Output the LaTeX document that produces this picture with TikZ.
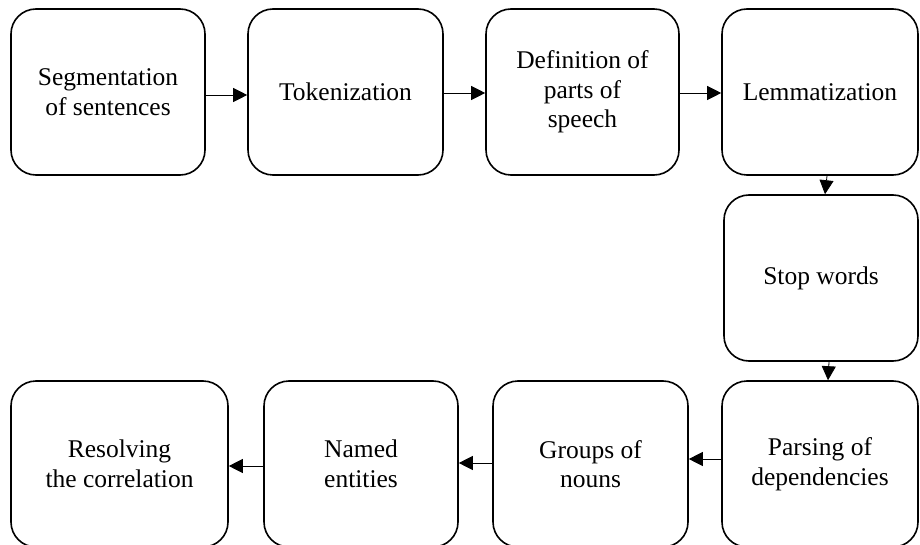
\documentclass[tikz,border=0pt]{standalone}
\usepackage{fontspec}
\setmainfont{Liberation Serif}
\usetikzlibrary{arrows.meta}
\tikzset{
  procbox/.style={draw, line width=1.6pt, rounded corners=25pt, align=center,
    font=\fontsize{25.5pt}{29.5pt}\selectfont, inner sep=0pt},
  flow/.style={line width=0.8pt, -{Triangle[length=14pt,width=14pt]}}
}
\begin{document}
\begin{tikzpicture}[x=1pt,y=-1pt]
\clip (0,0) rectangle (920,545);
\fill[white] (0,0) rectangle (920,545);
\node[procbox, minimum width=194pt, minimum height=166pt] (b1) at (108,92) {Segmentation\\of sentences};
\node[procbox, minimum width=195pt, minimum height=166pt] (b2) at (345.5,92) {Tokenization};
\node[procbox, minimum width=193pt, minimum height=166pt] (b3) at (582.5,92) {Definition of\\parts of\\speech};
\node[procbox, minimum width=196pt, minimum height=166pt] (b4) at (820,92) {Lemmatization};
\node[procbox, minimum width=194pt, minimum height=166pt] (b5) at (821,278) {Stop words};
\node[procbox, minimum width=196pt, minimum height=166pt] (b9) at (820,464) {Parsing of\\dependencies};
\node[procbox, minimum width=195pt, minimum height=166pt] (b8) at (590.5,464) {Groups of\\nouns};
\node[procbox, minimum width=194pt, minimum height=166pt] (b7) at (361,464) {Named\\entities};
\node[procbox, minimum width=217pt, minimum height=166pt] (b6) at (119.5,464) {Resolving\\the correlation};
\draw[flow] ([yshift=-3pt]b1.east) -- ([yshift=-3pt]b2.west);
\draw[flow] ([yshift=-1pt]b2.east) -- ([yshift=-1pt]b3.west);
\draw[flow] ([yshift=-1pt]b3.east) -- ([yshift=-1pt]b4.west);
\draw[flow] ([xshift=7pt]b4.south) -- ([xshift=4pt]b5.north);
\draw[flow] ([xshift=8pt]b5.south) -- ([xshift=8pt]b9.north);
\draw[flow] ([yshift=5pt]b9.west) -- ([yshift=5pt]b8.east);
\draw[flow] ([yshift=1pt]b8.west) -- ([yshift=1pt]b7.east);
\draw[flow] ([yshift=-2pt]b7.west) -- ([yshift=-2pt]b6.east);
\end{tikzpicture}
\end{document}
